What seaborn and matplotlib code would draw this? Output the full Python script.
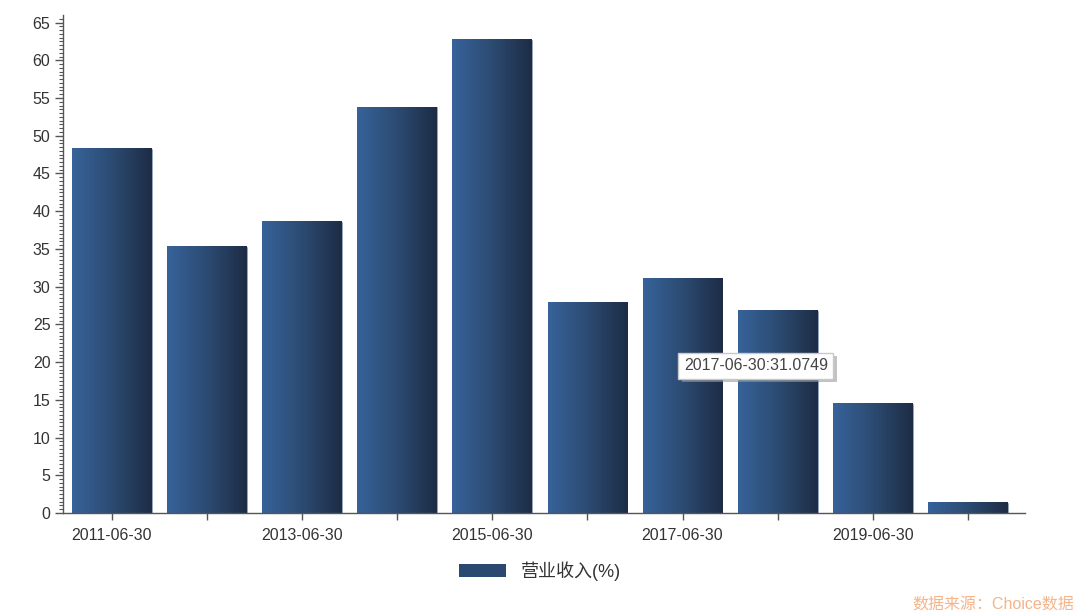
import matplotlib
matplotlib.use("Agg")

import numpy as np
import pandas as pd
import matplotlib.pyplot as plt
import matplotlib.patheffects as pe
import seaborn as sns
from matplotlib.patches import Patch
from matplotlib.colors import LinearSegmentedColormap

sns.set_theme(style="white")
plt.rcParams['font.family'] = ['Liberation Sans', 'Noto Sans CJK SC', 'DejaVu Sans']

dates = ["2011-06-30", "2012-06-30", "2013-06-30", "2014-06-30", "2015-06-30",
         "2016-06-30", "2017-06-30", "2018-06-30", "2019-06-30", "2020-06-30"]
revenue = [48.3, 35.3, 38.6, 53.8, 62.7, 27.85, 31.0749, 26.8, 14.46, 1.35]
series_name = "营业收入"

df = pd.DataFrame({"date": dates, "value": revenue})

grad = LinearSegmentedColormap.from_list("bar", ["#37639a", "#2c4b72", "#1d2c45"])
text_color = "#333333"

fig = plt.figure(figsize=(10.8, 6.16), dpi=100)
ax = fig.add_axes([0.0583, 0.1672, 0.8907, 0.8084])

sns.barplot(data=df, x="date", y="value", color="#2c4b72", width=0.84, ax=ax)

# gradient fill on each bar
g = np.linspace(0, 1, 256).reshape(1, -1)
for p in ax.patches:
    x0, y0 = p.get_x(), p.get_y()
    w, h = p.get_width(), p.get_height()
    ax.imshow(g, cmap=grad, aspect="auto", extent=(x0, x0 + w, y0, y0 + h),
              zorder=p.get_zorder() + 0.1, interpolation="bicubic")
    p.set_edgecolor("#8fa6c4")
    p.set_linewidth(0.4)

ax.set_xlim(-0.515, 9.6)
ax.set_ylim(0, 66)
ax.set_yticks(np.arange(0, 66, 5))
ax.set_yticks(np.arange(0, 66, 0.5), minor=True)
ax.set_xticks(range(len(dates)))
ax.set_xticklabels([d if i % 2 == 0 else "" for i, d in enumerate(dates)])

for s in ["top", "right"]:
    ax.spines[s].set_visible(False)
for s in ["left", "bottom"]:
    ax.spines[s].set_color("#555555")
    ax.spines[s].set_linewidth(1.0)

ax.tick_params(axis="y", which="major", left=True, length=6, width=1, color="#555555",
               labelsize=11.5, labelcolor=text_color, pad=3)
ax.tick_params(axis="y", which="minor", left=True, length=3, width=0.8, color="#555555")
ax.tick_params(axis="x", bottom=True, length=5, width=1, color="#555555",
               labelsize=11.5, labelcolor=text_color, pad=6)
ax.set_xlabel("")
ax.set_ylabel("")
ax.grid(False)

# tooltip with a small drop shadow
tip = ax.text(6.77, 19.5, f"{dates[6]}:{revenue[6]}", ha="center", va="center",
              fontsize=11.5, color="#444444", zorder=10,
              bbox=dict(boxstyle="square,pad=0.35", fc="white", ec="#c8c8c8", lw=1))
tip.get_bbox_patch().set_path_effects([
    pe.SimplePatchShadow(offset=(2.5, -2.5), shadow_rgbFace="#9a9a9a", alpha=0.6),
    pe.Normal(),
])

handle = Patch(facecolor="#2a4870", edgecolor="none")
leg = fig.legend([handle], [series_name + "(%)"], loc="center", bbox_to_anchor=(0.5, 0.073),
                 frameon=False, fontsize=13, handlelength=2.6, handleheight=0.65,
                 handletextpad=0.8)
for t in leg.get_texts():
    t.set_color(text_color)

fig.text(0.995, 0.005, "数据来源：Choice数据", ha="right", va="bottom",
         fontsize=11.5, color="#f5b48a")

fig.savefig("out.png", dpi=100)
